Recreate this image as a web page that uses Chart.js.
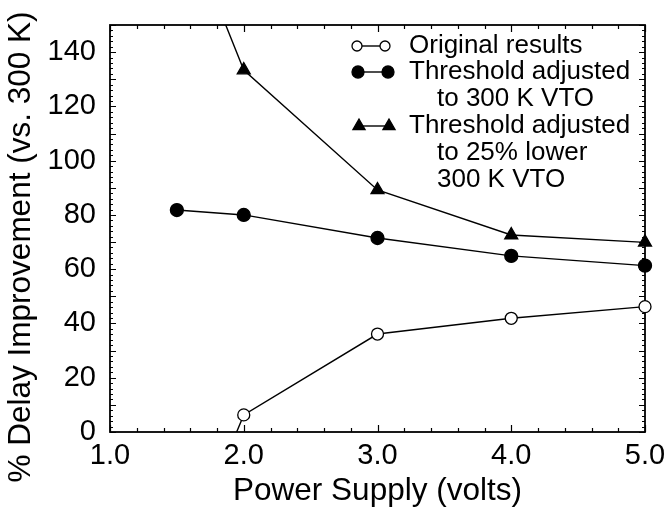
<!DOCTYPE html>
<html>
<head>
<meta charset="utf-8">
<script src="https://cdn.jsdelivr.net/npm/chart.js@4/dist/chart.umd.min.js"></script>
<style>
  html, body { margin: 0; padding: 0; background: #fff; }
  #wrap { width: 667px; height: 510px; }
</style>
</head>
<body>
<div id="wrap"><canvas id="c" width="667" height="510"></canvas></div>
<script>
// ---- data ----
const supplyVolts = [1.5, 2.0, 3.0, 4.0, 5.0];
const originalResults = [-53, 6.3, 36.1, 41.9, 46.2];
const adjusted300K = [81.8, 80.0, 71.5, 64.9, 61.3];
const adjusted25Lower = [195, 133.4, 89.2, 72.6, 69.9];

const xTickValues = [1, 2, 3, 4, 5];
const yTickValues = [0, 20, 40, 60, 80, 100, 120, 140];

const xTitle = 'Power Supply (volts)';
const yTitle = '% Delay Improvement (vs. 300 K)';
const legendLabels = [
  ['Original results'],
  ['Threshold adjusted', 'to 300 K VTO'],
  ['Threshold adjusted', 'to 25% lower', '300 K VTO']
];

const FONT = "'Liberation Sans', Arial, Helvetica, sans-serif";
Chart.defaults.font.family = FONT;
Chart.defaults.color = '#000';

function pts(ys) { return supplyVolts.map((x, i) => ({ x: x, y: ys[i] })); }

const seriesStyles = [
  { pointStyle: 'circle', radius: 6, fill: '#fff' },
  { pointStyle: 'circle', radius: 6.5, fill: '#000' },
  { pointStyle: 'triangle', radius: 7.5, fill: '#000' }
];
const seriesData = [originalResults, adjusted300K, adjusted25Lower];

const datasets = seriesData.map((ys, i) => ({
  label: legendLabels[i].join(' '),
  data: pts(ys),
  borderColor: '#000',
  borderWidth: 1.4,
  pointStyle: seriesStyles[i].pointStyle,
  pointRadius: seriesStyles[i].radius,
  pointHoverRadius: seriesStyles[i].radius,
  pointBackgroundColor: seriesStyles[i].fill,
  pointBorderColor: '#000',
  pointBorderWidth: 1.3,
  fill: false,
  tension: 0,
  clip: { left: 10, top: 0, right: 12, bottom: 0 }
}));

const framePlugin = {
  id: 'frame',
  beforeDatasetsDraw(chart) {
    const { ctx, chartArea: a, scales } = chart;
    const xs = scales.x, ys = scales.y;
    ctx.save();
    ctx.strokeStyle = '#000';
    ctx.lineWidth = 1.2;
    for (let k = 0; k <= 20; k++) {
      const v = 1 + k * 0.2;
      const px = Math.round(xs.getPixelForValue(v)) + 0.5;
      const len = (k % 5 === 0) ? 7 : 4;
      ctx.beginPath();
      ctx.moveTo(px, a.bottom); ctx.lineTo(px, a.bottom - len);
      ctx.moveTo(px, a.top); ctx.lineTo(px, a.top + len);
      ctx.stroke();
    }
    for (let v = 0; v <= 150; v += 2) {
      const py = Math.round(ys.getPixelForValue(v)) + 0.5;
      const len = (v % 10 === 0) ? 6 : 3;
      ctx.beginPath();
      ctx.moveTo(a.left, py); ctx.lineTo(a.left + len, py);
      ctx.moveTo(a.right, py); ctx.lineTo(a.right - len, py);
      ctx.stroke();
    }
    ctx.lineWidth = 1.8;
    ctx.strokeRect(a.left, a.top, a.right - a.left, a.bottom - a.top);
    ctx.restore();
  },
  afterDraw(chart) {
    const { ctx } = chart;
    ctx.save();
    ctx.translate(21, 247);
    ctx.rotate(-Math.PI / 2);
    ctx.font = '31.5px ' + FONT;
    ctx.fillStyle = '#000';
    ctx.textAlign = 'center';
    ctx.textBaseline = 'middle';
    ctx.fillText(yTitle, 0, 0);
    ctx.restore();

    const rows = [[46], [72, 99], [126, 153, 180]];
    const symX = [[357, 385], [358, 388], [359, 389]];
    const symR = [5, 6, 7];
    ctx.save();
    ctx.font = '26px ' + FONT;
    ctx.fillStyle = '#000';
    ctx.textBaseline = 'middle';
    ctx.textAlign = 'left';
    legendLabels.forEach((lines, i) => {
      const y = rows[i][0];
      const [x1, x2] = symX[i];
      ctx.strokeStyle = '#000';
      ctx.lineWidth = 1.4;
      ctx.beginPath(); ctx.moveTo(x1, y); ctx.lineTo(x2, y); ctx.stroke();
      [x1, x2].forEach(x => {
        ctx.fillStyle = seriesStyles[i].fill;
        ctx.strokeStyle = '#000';
        ctx.lineWidth = 1.3;
        Chart.helpers.drawPoint(ctx, {
          pointStyle: seriesStyles[i].pointStyle, radius: symR[i], rotation: 0, borderWidth: 1.3
        }, x, y);
      });
      ctx.fillStyle = '#000';
      lines.forEach((t, j) => {
        ctx.fillText(t, j === 0 ? 409 : 437, rows[i][j]);
      });
    });
    ctx.restore();
  }
};

new Chart(document.getElementById('c'), {
  type: 'line',
  data: { datasets: datasets },
  options: {
    responsive: false,
    animation: false,
    events: [],
    layout: { padding: { left: 0, right: 22, top: 25, bottom: 0 } },
    plugins: { legend: { display: false }, tooltip: { enabled: false } },
    scales: {
      x: {
        type: 'linear',
        min: 1, max: 5,
        afterBuildTicks: s => { s.ticks = xTickValues.map(v => ({ value: v })); },
        afterFit: s => { s.height = 78; s.paddingRight = 0; s.paddingLeft = 0; },
        grid: { display: false, drawTicks: false },
        border: { display: false },
        ticks: { font: { size: 29 }, color: '#000', padding: 7, maxRotation: 0,
                 callback: v => Number(v).toFixed(1) },
        title: { display: true, text: xTitle, font: { size: 31.5 }, color: '#000',
                 padding: { top: 0, bottom: 0 } }
      },
      y: {
        type: 'linear',
        min: 0, max: 150,
        afterBuildTicks: s => { s.ticks = yTickValues.map(v => ({ value: v })); },
        afterFit: s => { s.width = 110; s.paddingTop = 0; s.paddingBottom = 0; },
        grid: { display: false, drawTicks: false },
        border: { display: false },
        ticks: { font: { size: 29 }, color: '#000', padding: 14 }
      }
    }
  },
  plugins: [framePlugin]
});
</script>
</body>
</html>
